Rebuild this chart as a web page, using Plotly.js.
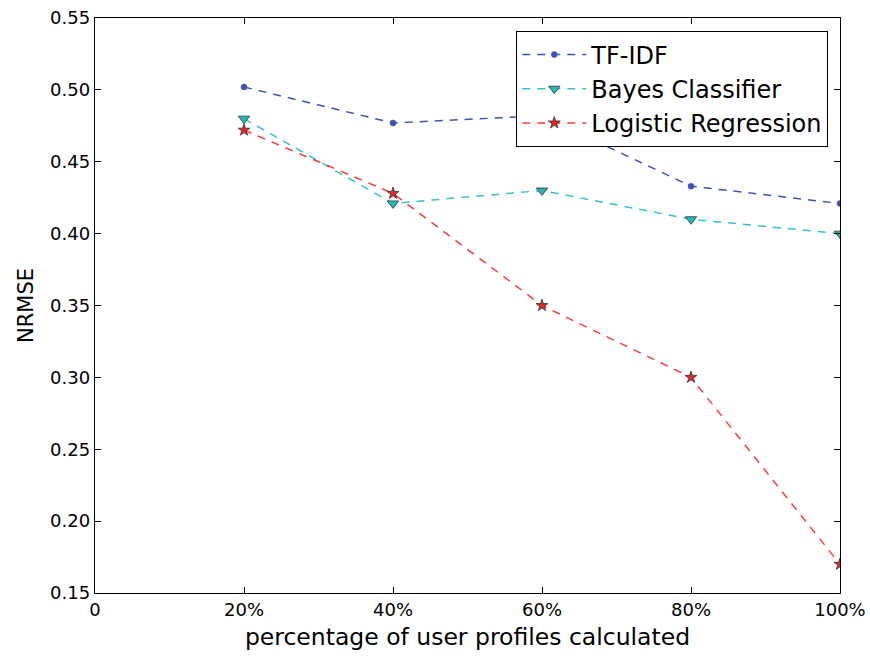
<!DOCTYPE html>
<html>
<head>
<meta charset="utf-8">
<script src="https://cdn.plot.ly/plotly-3.0.1.min.js"></script>
<style>html,body{margin:0;padding:0;background:#fff;}#chart{width:870px;height:657px;}</style>
</head>
<body>
<div id="chart"></div>
<script>
const xPercent = [20, 40, 60, 80, 100];
const tfidf = [0.502, 0.477, 0.482, 0.433, 0.421];
const bayes = [0.480, 0.421, 0.430, 0.410, 0.400];
const logistic = [0.472, 0.428, 0.350, 0.300, 0.170];
const xTickVals = [0, 20, 40, 60, 80, 100];
const xTickText = ['0', '20%', '40%', '60%', '80%', '100%'];
const yTickVals = [0.15, 0.20, 0.25, 0.30, 0.35, 0.40, 0.45, 0.50, 0.55];
const yTickText = ['0.15', '0.20', '0.25', '0.30', '0.35', '0.40', '0.45', '0.50', '0.55'];

const dashPat = '8px,7px';
const traces = [
  {x: xPercent, y: tfidf, name: 'TF-IDF', mode: 'lines+markers', type: 'scatter',
   line: {color: '#3f51b5', width: 1.5, dash: dashPat},
   marker: {symbol: 'circle', size: 6, color: '#3f51b5', line: {color: '#3f51b5', width: 0.5}}},
  {x: xPercent, y: bayes, name: 'Bayes Classifier', mode: 'lines+markers', type: 'scatter',
   line: {color: '#33c4c4', width: 1.5, dash: dashPat},
   marker: {symbol: 'triangle-down', size: 10, color: '#20b8b8', line: {color: '#333333', width: 0.8}}},
  {x: xPercent, y: logistic, name: 'Logistic Regression', mode: 'lines+markers', type: 'scatter',
   line: {color: '#ff3838', width: 1.5, dash: dashPat},
   marker: {symbol: 'star', size: 9, color: '#e8242a', line: {color: '#333333', width: 0.8}}}
];

const axisFont = {family: 'DejaVu Sans, sans-serif', size: 18, color: '#000'};
const layout = {
  width: 870, height: 657,
  margin: {l: 95, r: 30, t: 18, b: 64, pad: 0},
  paper_bgcolor: '#fff', plot_bgcolor: '#fff',
  font: {family: 'DejaVu Sans, sans-serif', color: '#000'},
  showlegend: true,
  legend: {x: 0.984, y: 0.977, xanchor: 'right', yanchor: 'top',
    bgcolor: '#fff', bordercolor: '#000', borderwidth: 1.2,
    font: {family: 'DejaVu Sans, sans-serif', size: 24, color: '#000'},
    itemwidth: 64, tracegroupgap: 2},
  xaxis: {range: [0, 100], tickvals: xTickVals, ticktext: xTickText,
    showgrid: false, zeroline: false, showline: true, linecolor: '#000', linewidth: 1.3,
    mirror: 'allticks', ticks: 'inside', ticklen: 6, tickcolor: '#000', tickwidth: 1,
    tickfont: axisFont,
    title: {text: 'percentage of user profiles calculated', font: {family: 'DejaVu Sans, sans-serif', size: 23.5, color: '#000'}, standoff: 9}},
  yaxis: {range: [0.15, 0.55], tickvals: yTickVals, ticktext: yTickText,
    showgrid: false, zeroline: false, showline: true, linecolor: '#000', linewidth: 1.3,
    mirror: 'allticks', ticks: 'inside', ticklen: 6, tickcolor: '#000', tickwidth: 1,
    tickfont: axisFont,
    title: {text: 'NRMSE', font: {family: 'DejaVu Sans, sans-serif', size: 21, color: '#000'}, standoff: 10}}
};

Plotly.newPlot('chart', traces, layout, {displayModeBar: false, staticPlot: true});
</script>
</body>
</html>
